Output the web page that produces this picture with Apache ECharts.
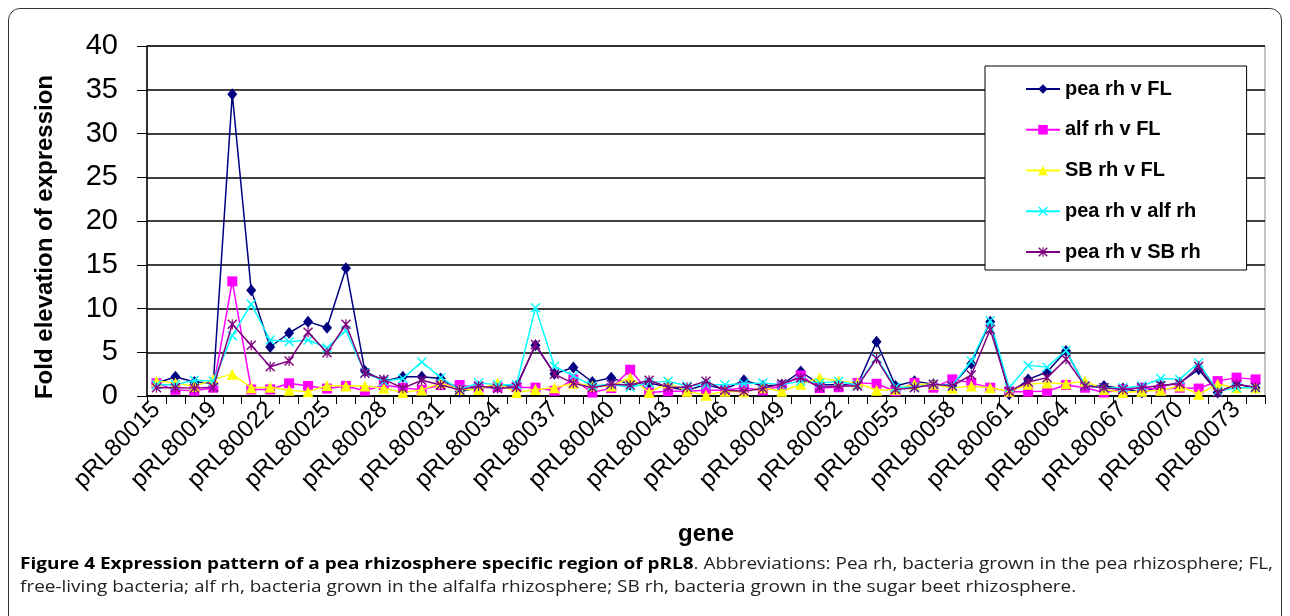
<!DOCTYPE html>
<html>
<head>
<meta charset="utf-8">
<script src="https://cdn.jsdelivr.net/npm/echarts@6/dist/echarts.min.js"></script>
<style>
  html, body { margin: 0; padding: 0; background: #fff; width: 1290px; height: 616px; overflow: hidden; }
  #frame { position: absolute; left: 8px; top: 8px; width: 1274px; height: 660px; border: 1.5px solid #333; border-radius: 12px; box-sizing: border-box; }
  #chart { position: absolute; left: 0; top: 0; width: 1290px; height: 616px; }
  .cap { position: absolute; left: 20px; font-family: "Open Sans", "DejaVu Sans Condensed", sans-serif; font-size: 16px; color: #222; white-space: nowrap; transform-origin: 0 0; }
  #cap1 { top: 552px; }
  #cap2 { top: 575px; }
  .cap b { color: #000; }
</style>
</head>
<body>
<div id="frame"></div>
<div id="chart"></div>
<div class="cap" id="cap1"><b>Figure 4 Expression pattern of a pea rhizosphere specific region of pRL8</b>. Abbreviations: Pea rh, bacteria grown in the pea rhizosphere; FL,</div>
<div class="cap" id="cap2">free-living bacteria; alf rh, bacteria grown in the alfalfa rhizosphere; SB rh, bacteria grown in the sugar beet rhizosphere.</div>
<script>
const genes = ["pRL80015","pRL80017","pRL80018","pRL80019","pRL80020","pRL80021","pRL80022","pRL80023","pRL80024","pRL80025",
  "pRL80026","pRL80027","pRL80028","pRL80029","pRL80030","pRL80031","pRL80032","pRL80033","pRL80034","pRL80035",
  "pRL80036","pRL80037","pRL80038","pRL80039","pRL80040","pRL80041","pRL80042","pRL80043","pRL80044","pRL80045",
  "pRL80046","pRL80047","pRL80048","pRL80049","pRL80050","pRL80051","pRL80052","pRL80053","pRL80054","pRL80055",
  "pRL80056","pRL80057","pRL80058","pRL80059","pRL80060","pRL80061","pRL80062","pRL80063","pRL80064","pRL80065",
  "pRL80066","pRL80067","pRL80068","pRL80069","pRL80070","pRL80071","pRL80072","pRL80073","pRL80074"];

const seriesNames = ["pea rh v FL","alf rh v FL","SB rh v FL","pea rh v alf rh","pea rh v SB rh"];

const peaRhVsFL = [1.45,2.2,1.6,1.45,34.5,12.1,5.6,7.2,8.5,7.8,14.6,2.85,1.7,2.2,2.2,2.0,0.5,0.95,1.15,1.15,
  5.8,2.55,3.25,1.6,2.1,1.3,1.5,1.0,0.65,1.3,0.75,1.8,1.15,1.3,2.8,1.3,1.3,1.3,6.2,1.15,
  1.7,1.35,1.2,3.7,8.5,0.2,1.9,2.75,5.15,1.15,1.15,0.85,0.4,1.15,1.5,3.05,0.4,1.35,0.95];

const alfRhVsFL = [1.45,0.7,0.6,0.95,13.1,0.75,0.75,1.45,1.15,0.85,1.15,0.6,1.25,0.95,0.7,1.25,1.25,0.95,1.0,1.0,
  0.95,0.6,1.9,0.4,0.9,3.0,0.4,0.55,0.55,0.65,0.65,0.95,0.65,1.15,2.35,0.9,1.0,1.5,1.4,0.55,
  1.5,0.95,1.9,1.5,0.95,0.5,0.5,0.55,1.25,0.95,0.4,0.75,0.95,0.75,0.95,0.85,1.7,2.1,1.9];

const sbRhVsFL = [1.7,1.5,1.1,1.9,2.5,0.95,1.0,0.65,0.5,1.2,1.15,1.15,0.9,0.4,0.7,1.5,0.75,0.75,1.5,0.4,
  0.75,0.95,1.45,1.15,1.15,2.1,0.4,1.5,0.55,0.1,0.55,0.5,0.95,0.55,1.35,2.1,1.7,1.5,0.65,0.75,
  1.35,1.35,0.9,1.15,0.95,0.55,1.35,1.5,1.4,1.7,0.75,0.4,0.55,0.65,1.15,0.2,1.35,0.95,0.95];

const peaRhVsAlfRh = [1.3,1.3,1.8,1.7,6.9,10.5,6.4,6.2,6.4,5.5,7.5,2.65,1.7,2.0,3.9,2.1,0.75,1.5,1.3,1.3,
  10.1,3.4,2.3,1.15,1.35,1.0,1.5,1.7,1.15,1.3,1.3,1.4,1.5,1.3,1.7,1.5,1.65,1.25,4.35,1.0,
  1.0,1.35,1.2,4.0,8.6,0.95,3.5,3.3,5.2,1.15,0.95,0.95,1.15,2.0,1.9,3.8,0.55,0.95,0.95];

const peaRhVsSBRh = [0.95,0.95,0.9,1.0,8.2,5.8,3.35,4.0,7.3,4.95,8.2,2.6,1.9,0.9,1.8,1.25,0.7,1.15,0.85,1.0,
  5.9,2.5,1.45,0.95,1.35,1.25,1.8,1.0,1.0,1.7,0.65,0.55,0.85,1.4,2.1,1.0,1.15,1.15,4.25,0.75,
  0.95,1.35,1.15,2.4,7.6,0.55,1.6,2.1,4.2,1.15,0.95,0.75,0.95,1.2,1.4,3.4,0.4,1.35,1.0];

const yTicks = { min: 0, max: 40, interval: 5 };

const crossPath = 'path://M0,1L1,0L5,4L9,0L10,1L6,5L10,9L9,10L5,6L1,10L0,9L4,5Z';
const starPath = 'path://M0,1L1,0L5,4L9,0L10,1L6,5L10,9L9,10L5,6L1,10L0,9L4,5Z M4.4,0L5.6,0L5.6,10L4.4,10Z';

const styles = [
  { color: '#000080', symbol: 'diamond', size: [10, 12] },
  { color: '#FF00FF', symbol: 'rect', size: 10 },
  { color: '#FFFF00', symbol: 'triangle', size: 11 },
  { color: '#00FFFF', symbol: crossPath, size: 10 },
  { color: '#800080', symbol: starPath, size: 10 }
];
const dataSets = [peaRhVsFL, alfRhVsFL, sbRhVsFL, peaRhVsAlfRh, peaRhVsSBRh];

// fit caption lines to the frame width
(function () {
  const c1 = document.getElementById('cap1');
  const c2 = document.getElementById('cap2');
  const w = c1.getBoundingClientRect().width;
  const s = 1253 / w;
  c1.style.transform = 'scaleX(' + s + ')';
  c2.style.transform = 'scaleX(' + s + ')';
})();

const chart = echarts.init(document.getElementById('chart'), null, { renderer: 'canvas' });
chart.setOption({
  animation: false,
  backgroundColor: 'transparent',
  grid: { left: 147, right: 25, top: 46, bottom: 220, show: true, borderColor: '#888', borderWidth: 1 },
  legend: {
    orient: 'vertical',
    left: 985, top: 66,
    padding: [13, 46, 8, 40],
    itemWidth: 34, itemHeight: 12, itemGap: 20.75,
    backgroundColor: '#fff',
    borderColor: '#000', borderWidth: 1,
    textStyle: { fontFamily: 'Liberation Sans, Arial, sans-serif', fontWeight: 'bold', fontSize: 20, color: '#000' },
    data: seriesNames
  },
  xAxis: {
    type: 'category',
    data: genes,
    boundaryGap: true,
    name: 'gene',
    nameLocation: 'middle',
    nameGap: 126,
    nameTextStyle: { fontFamily: 'Liberation Sans, Arial, sans-serif', fontWeight: 'bold', fontSize: 24, color: '#000' },
    axisLine: { lineStyle: { color: '#000', width: 1.5 } },
    axisTick: { show: true, interval: 0, length: 8, lineStyle: { color: '#000', width: 1 } },
    axisLabel: { interval: 2, rotate: 45, margin: 10, fontFamily: 'Liberation Sans, Arial, sans-serif', fontSize: 24, color: '#000' },
    splitLine: { show: false }
  },
  yAxis: {
    type: 'value',
    min: yTicks.min, max: yTicks.max, interval: yTicks.interval,
    axisLine: { show: true, lineStyle: { color: '#000', width: 1.5 } },
    axisTick: { show: true, length: 10, lineStyle: { color: '#000', width: 1 } },
    axisLabel: { margin: 29, fontFamily: 'Liberation Sans, Arial, sans-serif', fontSize: 29, color: '#000' },
    splitLine: { show: true, lineStyle: { color: '#000', width: 1.5 } }
  },
  graphic: [{
    type: 'text',
    x: 45, y: 237,
    rotation: Math.PI / 2,
    style: {
      text: 'Fold elevation of expression',
      fontFamily: 'Liberation Sans, Arial, sans-serif',
      fontWeight: 'bold', fontSize: 24, fill: '#000',
      align: 'center', verticalAlign: 'middle'
    }
  }],
  series: dataSets.map((d, i) => ({
    name: seriesNames[i],
    type: 'line',
    data: d,
    symbol: styles[i].symbol,
    symbolSize: styles[i].size,
    showAllSymbol: true,
    lineStyle: { color: styles[i].color, width: 1.5 },
    itemStyle: { color: styles[i].color, borderWidth: 0 },
    z: 2 + i
  }))
});
</script>
</body>
</html>
